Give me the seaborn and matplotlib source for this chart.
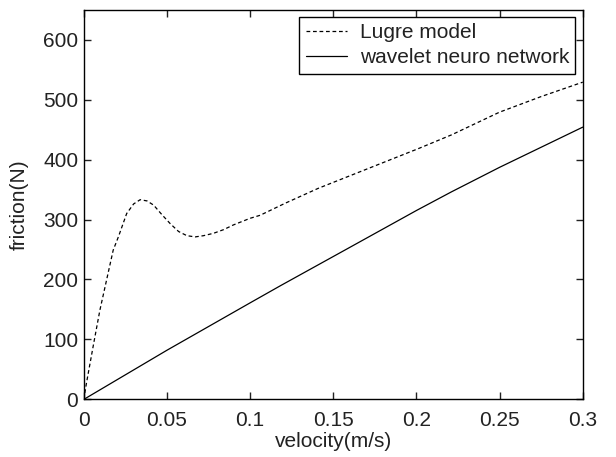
import numpy as np
import pandas as pd
import matplotlib
matplotlib.use('Agg')
import matplotlib.pyplot as plt
import seaborn as sns

# Lugre model friction curve
lugre_v = [0, 0.0016, 0.0056, 0.0097, 0.0137, 0.0177, 0.0208, 0.0258, 0.0300,
           0.0339, 0.038, 0.042, 0.047, 0.052, 0.057, 0.062, 0.067, 0.072,
           0.078, 0.084, 0.090, 0.1, 0.106, 0.121, 0.141, 0.161, 0.181, 0.201,
           0.221, 0.25, 0.275, 0.3]
lugre_f = [0, 27, 88, 149, 199, 249, 271, 310, 326,
           333, 331, 324, 308, 293, 280, 273, 271, 273,
           277, 283, 291, 302, 307, 327, 352, 374, 396, 418,
           441, 479, 505, 529]

# wavelet neuro network output
wnn_v = [0, 0.05, 0.1, 0.1185, 0.157, 0.2, 0.221, 0.25, 0.3]
wnn_f = [0, 82, 161, 190, 249, 315, 346, 387, 454]

sns.set_style('ticks')
plt.rcParams['font.family'] = ['Liberation Sans', 'DejaVu Sans']

fig, ax = plt.subplots(figsize=(6.16, 4.57), dpi=100)
fig.subplots_adjust(left=0.136, right=0.946, top=0.979, bottom=0.126)

lugre = pd.DataFrame({'v': lugre_v, 'f': lugre_f})
wnn = pd.DataFrame({'v': wnn_v, 'f': wnn_f})

sns.lineplot(data=lugre, x='v', y='f', ax=ax, color='black', lw=0.9,
             label='Lugre model')
sns.lineplot(data=wnn, x='v', y='f', ax=ax, color='black', lw=0.9,
             label='wavelet neuro network')
ax.lines[0].set_dashes((3, 2.2))

ax.set_xlim(0, 0.3)
ax.set_ylim(0, 650)
ax.set_xticks([0, 0.05, 0.1, 0.15, 0.2, 0.25, 0.3])
ax.set_xticklabels(['0', '0.05', '0.1', '0.15', '0.2', '0.25', '0.3'])
ax.set_yticks(range(0, 700, 100))
ax.tick_params(direction='in', top=True, right=True, length=5, width=1,
               labelsize=15, colors='#222222')
ax.tick_params(axis='x', pad=8)
ax.tick_params(axis='y', pad=4)
for s in ax.spines.values():
    s.set_visible(True)
    s.set_linewidth(1)
    s.set_color('black')
ax.set_xlabel('velocity(m/s)', fontsize=15, labelpad=2, color='#222222')
ax.set_ylabel('friction(N)', fontsize=15, labelpad=10, color='#222222')

leg = ax.legend(loc='upper right', fancybox=False, framealpha=1,
                edgecolor='black', fontsize=15, handlelength=2.0,
                handletextpad=0.6, borderaxespad=0.35, borderpad=0.3,
                labelspacing=0.3)
leg.get_frame().set_linewidth(1)
leg.get_lines()[0].set_dashes((3, 2.2))
for t in leg.get_texts():
    t.set_color('#222222')

plt.savefig('out.png', dpi=100)
